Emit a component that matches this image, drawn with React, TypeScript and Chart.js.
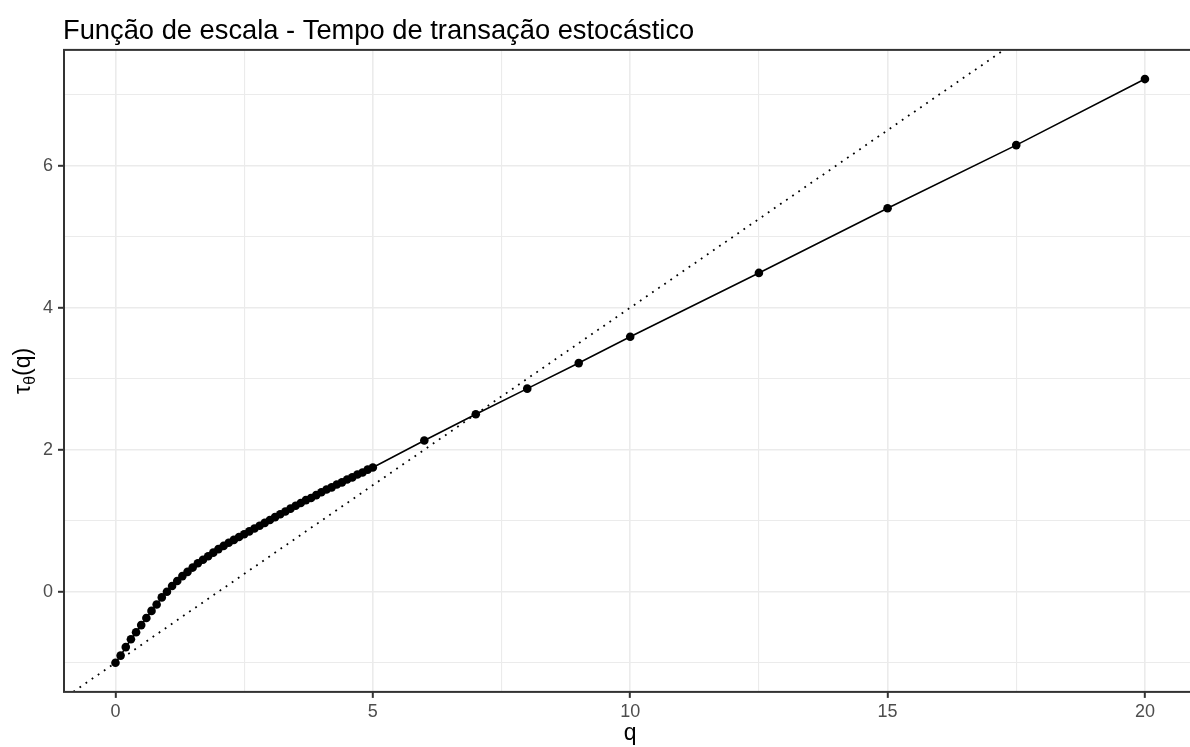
import { useEffect, useRef } from "react";
import { Chart, registerables } from "chart.js";

Chart.register(...registerables);

// Moment orders q and estimated scaling function tau(q)
const Q_VALUES = [
  0, 0.1, 0.2, 0.3, 0.4, 0.5, 0.6, 0.7, 0.8, 0.9,
  1.0, 1.1, 1.2, 1.3, 1.4, 1.5, 1.6, 1.7, 1.8, 1.9,
  2.0, 2.1, 2.2, 2.3, 2.4, 2.5, 2.6, 2.7, 2.8, 2.9,
  3.0, 3.1, 3.2, 3.3, 3.4, 3.5, 3.6, 3.7, 3.8, 3.9,
  4.0, 4.1, 4.2, 4.3, 4.4, 4.5, 4.6, 4.7, 4.8, 4.9,
  5.0, 6, 7, 8, 9, 10, 12.5, 15, 17.5, 20,
];
const TAU_VALUES = [
  -1.0, -0.9, -0.78, -0.67, -0.57, -0.47, -0.37, -0.27, -0.18, -0.08,
  0.0, 0.08, 0.15, 0.22, 0.28, 0.34, 0.4, 0.45, 0.5, 0.55,
  0.6, 0.645, 0.69, 0.73, 0.77, 0.81, 0.85, 0.89, 0.93, 0.97,
  1.01, 1.05, 1.09, 1.13, 1.17, 1.21, 1.25, 1.29, 1.32, 1.36,
  1.4, 1.44, 1.47, 1.51, 1.54, 1.58, 1.61, 1.65, 1.68, 1.72,
  1.75, 2.13, 2.5, 2.86, 3.22, 3.59, 4.49, 5.4, 6.29, 7.22,
];

// Reference line tau(q) = q/2 - 1 (dotted)
const REF_Q = [-2, 22];
const REF_TAU = [-2, 10];

// Axis breaks
const X_MAJOR = [0, 5, 10, 15, 20];
const X_MINOR = [2.5, 7.5, 12.5, 17.5];
const Y_MAJOR = [0, 2, 4, 6];
const Y_MINOR = [-1, 1, 3, 5, 7];

const TITLE = "Função de escala - Tempo de transação estocástico";
const X_TITLE = "q";

const FONT = '"Liberation Sans", Arial, sans-serif';
const X_LIMITS = [-1, 21];
const Y_LIMITS = [-1.411, 7.631];

const CANVAS_W = 1210;
const CANVAS_H = 747;

const isIn = (list: number[], v: number) => list.some((m) => Math.abs(m - v) < 1e-9);

const decorPlugin = {
  id: "decor",
  afterDraw(chart: any) {
    const { ctx, chartArea } = chart;
    const { left, top, right, bottom } = chartArea;
    ctx.save();
    // panel border
    ctx.strokeStyle = "#333333";
    ctx.lineWidth = 2;
    ctx.strokeRect(left, top, right - left, bottom - top);

    // title
    ctx.fillStyle = "#000000";
    ctx.textAlign = "left";
    ctx.textBaseline = "alphabetic";
    ctx.font = `27.3px ${FONT}`;
    ctx.fillText(TITLE, left - 1, 39);

    // x axis title
    ctx.font = `23px ${FONT}`;
    ctx.textAlign = "center";
    ctx.fillText(X_TITLE, (left + 1196.4) / 2, 740);

    // y axis title: tau with theta subscript, then (q)
    const cy = (top + bottom) / 2;
    ctx.translate(30, cy);
    ctx.rotate(-Math.PI / 2);
    ctx.textAlign = "left";
    ctx.font = `23px ${FONT}`;
    const wTau = ctx.measureText("τ").width;
    const wParen = ctx.measureText("(q)").width;
    ctx.font = `16px ${FONT}`;
    const wTheta = ctx.measureText("θ").width;
    let x = -(wTau + wTheta + wParen) / 2;
    ctx.font = `23px ${FONT}`;
    ctx.fillText("τ", x, 0);
    x += wTau;
    ctx.font = `16px ${FONT}`;
    ctx.fillText("θ", x, 5);
    x += wTheta;
    ctx.font = `23px ${FONT}`;
    ctx.fillText("(q)", x, 0);
    ctx.restore();
  },
};

export default function App() {
  const canvasRef = useRef<HTMLCanvasElement | null>(null);

  useEffect(() => {
    const canvas = canvasRef.current;
    if (!canvas) return;

    const points = Q_VALUES.map((q, i) => ({ x: q, y: TAU_VALUES[i] }));
    const refLine = REF_Q.map((q, i) => ({ x: q, y: REF_TAU[i] }));

    const gridFor = (major: number[]) => ({
      color: "#EBEBEB",
      lineWidth: (c: any) => (c.tick && isIn(major, c.tick.value) ? 1.6 : 1.1),
      tickColor: (c: any) =>
        c.tick && isIn(major, c.tick.value) ? "#333333" : "rgba(0,0,0,0)",
      tickLength: 6,
      tickWidth: 2,
      drawTicks: true,
    });

    const chart = new Chart(canvas, {
      type: "scatter",
      data: {
        datasets: [
          {
            data: refLine,
            showLine: true,
            borderColor: "#000000",
            borderWidth: 1.8,
            borderDash: [1.8, 5.6],
            pointRadius: 0,
            fill: false,
          },
          {
            data: points,
            showLine: true,
            borderColor: "#000000",
            borderWidth: 1.6,
            pointRadius: 4.3,
            pointBackgroundColor: "#000000",
            pointBorderWidth: 0,
            fill: false,
          },
        ],
      },
      options: {
        animation: false,
        responsive: false,
        devicePixelRatio: 1,
        layout: {
          padding: { top: 49.9, right: CANVAS_W - 1196.4, bottom: 0, left: 0 },
        },
        plugins: {
          legend: { display: false },
          tooltip: { enabled: false },
          title: { display: false },
        },
        scales: {
          x: {
            type: "linear",
            min: X_LIMITS[0],
            max: X_LIMITS[1],
            afterBuildTicks: (axis: any) => {
              axis.ticks = [...X_MAJOR, ...X_MINOR]
                .sort((a, b) => a - b)
                .map((v) => ({ value: v }));
            },
            afterFit: (axis: any) => {
              axis.height = CANVAS_H - 691.9;
            },
            border: { display: false },
            grid: gridFor(X_MAJOR),
            ticks: {
              autoSkip: false,
              maxRotation: 0,
              padding: 3,
              color: "#4D4D4D",
              font: { family: FONT, size: 18 },
              callback: (v: any) => (isIn(X_MAJOR, Number(v)) ? String(v) : ""),
            },
          },
          y: {
            type: "linear",
            min: Y_LIMITS[0],
            max: Y_LIMITS[1],
            afterBuildTicks: (axis: any) => {
              axis.ticks = [...Y_MAJOR, ...Y_MINOR]
                .sort((a, b) => a - b)
                .map((v) => ({ value: v }));
            },
            afterFit: (axis: any) => {
              axis.width = 64;
            },
            border: { display: false },
            grid: gridFor(Y_MAJOR),
            ticks: {
              autoSkip: false,
              padding: 5,
              color: "#4D4D4D",
              font: { family: FONT, size: 18 },
              callback: (v: any) => (isIn(Y_MAJOR, Number(v)) ? String(v) : ""),
            },
          },
        },
      },
      plugins: [decorPlugin],
    });

    return () => chart.destroy();
  }, []);

  return (
    <div
      style={{
        position: "fixed",
        left: 0,
        top: 0,
        width: 1190,
        height: CANVAS_H,
        overflow: "hidden",
        background: "#ffffff",
      }}
    >
      <canvas
        ref={canvasRef}
        width={CANVAS_W}
        height={CANVAS_H}
        style={{ display: "block", width: CANVAS_W, height: CANVAS_H }}
      />
    </div>
  );
}
